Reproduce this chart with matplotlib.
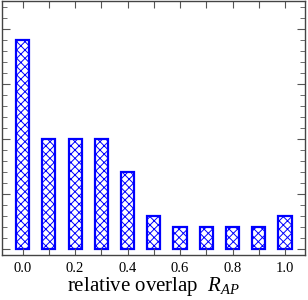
import numpy as np
import matplotlib
matplotlib.use("Agg")
from matplotlib import pyplot as plt
from matplotlib.ticker import MultipleLocator

plt.rcParams['font.family'] = ['Liberation Serif', 'DejaVu Serif']
plt.rcParams['mathtext.fontset'] = 'custom'
plt.rcParams['mathtext.it'] = 'Liberation Serif:italic'
plt.rcParams['mathtext.rm'] = 'Liberation Serif'
plt.rcParams['hatch.color'] = 'blue'
plt.rcParams['hatch.linewidth'] = 0.7

overlap = [0.0, 0.1, 0.2, 0.3, 0.4, 0.5, 0.6, 0.7, 0.8, 0.9, 1.0]
counts = [19, 10, 10, 10, 7, 3, 2, 2, 2, 2, 3]
tick_labels = ["0.0", "", "0.2", "", "0.4", "", "0.6", "", "0.8", "", "1.0"]

fig = plt.figure(figsize=(3.08, 3.0), dpi=100)
ax = fig.add_axes([0.007, 0.15, 0.983, 0.847])

ax.bar(overlap, counts, width=0.05, color='white', edgecolor='blue',
       linewidth=1.6, hatch='xxxx')

ax.set_xlim(-0.078, 1.076)
ax.set_ylim(-0.55, 22.6)
ax.set_xticks(overlap)
ax.set_xticklabels(tick_labels, fontsize=10.5)
ax.yaxis.set_major_locator(MultipleLocator(5))
ax.yaxis.set_minor_locator(MultipleLocator(1))
ax.set_yticklabels([])
ax.tick_params(axis='both', which='both', direction='in', top=True, right=True,
               color='#555555')
ax.tick_params(axis='x', which='major', length=5, pad=5)
ax.tick_params(axis='y', which='major', length=6)
ax.tick_params(axis='y', which='minor', length=3.5)
for s in ax.spines.values():
    s.set_color('#444444')
    s.set_linewidth(1.0)

ax.set_xlabel(r"relative overlap$\ \ R_{AP}$", fontsize=15, labelpad=0)

fig.savefig("out.png", dpi=100)
